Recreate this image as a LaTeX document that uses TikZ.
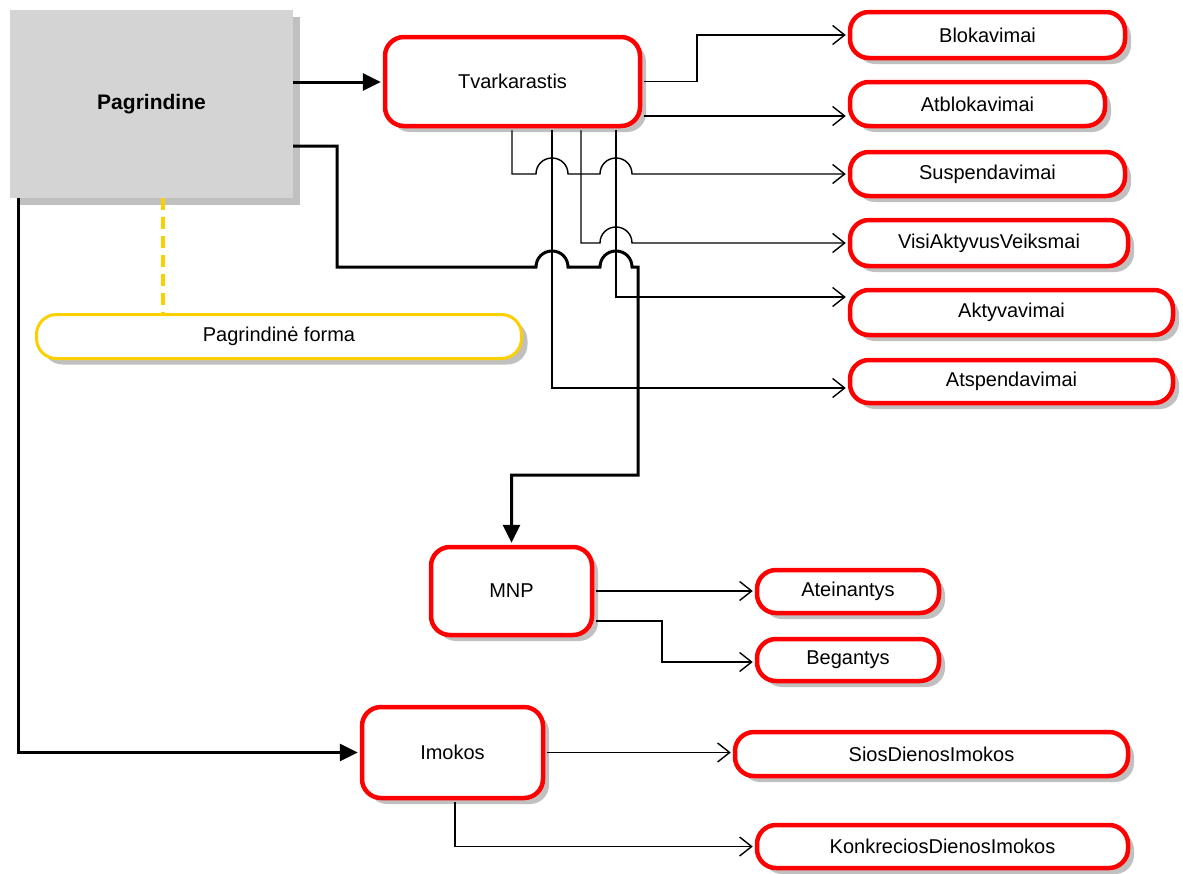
\documentclass[tikz,border=0pt]{standalone}
\usepackage{fontspec}
\setmainfont{Liberation Sans}
\usetikzlibrary{arrows.meta,shadows}

\definecolor{boxred}{RGB}{255,0,0}
\definecolor{formyellow}{RGB}{250,208,0}
\definecolor{panelgray}{RGB}{212,212,212}
\definecolor{shadegray}{RGB}{192,192,192}

\tikzset{
  % a semicircular bridge where a horizontal line crosses a vertical one at x=#1, y=#2
  jumpover/.style args={#1/#2}{insert path={
    -- ({#1-16},#2) .. controls ({#1-16},{#2-9}) and ({#1-9},{#2-16}) .. (#1,{#2-16})
    .. controls ({#1+9},{#2-16}) and ({#1+16},{#2-9}) .. ({#1+16},#2)}},
  boxshadow/.style={drop shadow={shadow xshift=6pt, shadow yshift=-6pt, fill=shadegray, opacity=1}},
  redbox/.style={draw=boxred, line width=4.5pt, fill=white, rounded corners=19pt,
    inner sep=0pt, font=\fontsize{20}{24}\selectfont, boxshadow},
  formbox/.style={draw=formyellow, line width=3pt, fill=white, rounded corners=20pt,
    inner sep=0pt, font=\fontsize{20}{24}\selectfont, boxshadow},
  mainpanel/.style={fill=panelgray, inner sep=0pt, font=\bfseries\fontsize{21}{25}\selectfont,
    drop shadow={shadow xshift=7pt, shadow yshift=-7pt, fill=shadegray, opacity=1}},
  conn/.style={draw=black, line width=1.4pt, shorten <=2pt, shorten >=2pt,
    -{Straight Barb[length=12pt,width=19pt,line width=1.4pt]}},
  mainconn/.style={draw=black, line width=3pt, shorten >=2pt,
    -{Triangle[length=18pt,width=17pt]}},
  formlink/.style={draw=formyellow, line width=4pt, dash pattern=on 12pt off 7pt},
}

\begin{document}
\begin{tikzpicture}[x=1pt,y=-1pt]
\useasboundingbox (0,0) rectangle (1183,873);

% main form panel
\node[mainpanel, minimum width=283pt, minimum height=188pt] (pag) at (151.5,104) {Pagrindine};

% first level forms
\node[redbox, minimum width=255pt, minimum height=89pt] (tv) at (512.5,81.5) {Tvarkarastis};
\node[redbox, minimum width=161pt, minimum height=88pt] (mnp) at (511.5,591) {MNP};
\node[redbox, minimum width=181pt, minimum height=91pt] (imo) at (452.5,752.5) {Imokos};

% schedule sub-forms
\node[redbox, minimum width=275pt, minimum height=46pt] (blok) at (987.5,35) {Blokavimai};
\node[redbox, minimum width=255pt, minimum height=44pt] (ablok) at (977.5,104) {Atblokavimai};
\node[redbox, minimum width=275pt, minimum height=44pt] (susp) at (987.5,174) {Suspendavimai};
\node[redbox, minimum width=278pt, minimum height=46pt] (visi) at (989,243) {VisiAktyvusVeiksmai};
\node[redbox, minimum width=323pt, minimum height=45pt] (akt) at (1011.5,312.5) {Aktyvavimai};
\node[redbox, minimum width=323pt, minimum height=43pt] (atsp) at (1011.5,381.5) {Atspendavimai};

% MNP sub-forms
\node[redbox, minimum width=182pt, minimum height=43pt] (atein) at (848,591.5) {Ateinantys};
\node[redbox, minimum width=182pt, minimum height=42pt] (beg) at (848,660) {Begantys};

% payment sub-forms
\node[redbox, minimum width=393pt, minimum height=44pt] (sios) at (931.5,754) {SiosDienosImokos};
\node[redbox, minimum width=371pt, minimum height=43pt] (konk) at (942.5,846.5) {KonkreciosDienosImokos};

% description of the main form
\node[formbox, minimum width=485pt, minimum height=44pt] (pf) at (279,336.5) {Pagrindinė forma};

% routing columns and bends
\coordinate (kB) at (697,0);
\coordinate (vA) at (512,0);
\coordinate (vB) at (552,0);
\coordinate (vC) at (581,0);
\coordinate (vD) at (616,0);
\coordinate (xL) at (18,0);
\coordinate (xF) at (163,0);
\coordinate (xI) at (455,0);
\coordinate (kM) at (662,0);
\coordinate (tvLow) at ([yshift=-34.5pt]tv.east);
\coordinate (aktIn) at ([yshift=15.5pt]akt.west);
\coordinate (atspIn) at ([yshift=-6.5pt]atsp.west);
\coordinate (pagA) at ([yshift=22pt]pag.east);
\coordinate (pagB) at ([yshift=-42pt]pag.east);
\coordinate (bendM) at (638,475);
\coordinate (mnpLow) at ([yshift=-30pt]mnp.east);
\coordinate (begIn) at ([yshift=-2pt]beg.west);

% link to the form description
\draw[formlink] (pag.south -| xF) -- (pf.north -| xF);

% schedule connectors
\draw[conn] (tv.east) -- (tv.east -| kB) -- (kB |- blok.west) -- (blok.west);
\draw[conn] (tvLow) -- (tvLow -| ablok.west);
\draw[conn] (tv.south -| vA) -- (vA |- susp.west) [jumpover=552/174] [jumpover=616/174] -- (susp.west);
\draw[conn] (tv.south -| vC) -- (vC |- visi.west) [jumpover=616/243] -- (visi.west);
\draw[conn] (tv.south -| vD) -- (vD |- aktIn) -- (aktIn);
\draw[conn] (tv.south -| vB) -- (vB |- atspIn) -- (atspIn);

% main form connectors
\draw[mainconn] (pagA) -- (pagA -| tv.west);
\draw[mainconn] (pagB) -- (337,146) -- (337,267) [jumpover=552/267] [jumpover=616/267]
  -- (bendM |- 0,267) -- (bendM) -- (bendM -| mnp.north) -- (mnp.north);
\draw[mainconn] (pag.south -| xL) -- (xL |- imo.west) -- (imo.west);

% MNP connectors
\draw[conn] (mnp.east) -- (mnp.east -| atein.west);
\draw[conn] (mnpLow) -- (mnpLow -| kM) -- (kM |- begIn) -- (begIn);

% payment connectors
\draw[conn] (imo.east) -- (imo.east -| sios.west);
\draw[conn] (imo.south -| xI) -- (xI |- konk.west) -- (konk.west);
\end{tikzpicture}
\end{document}
